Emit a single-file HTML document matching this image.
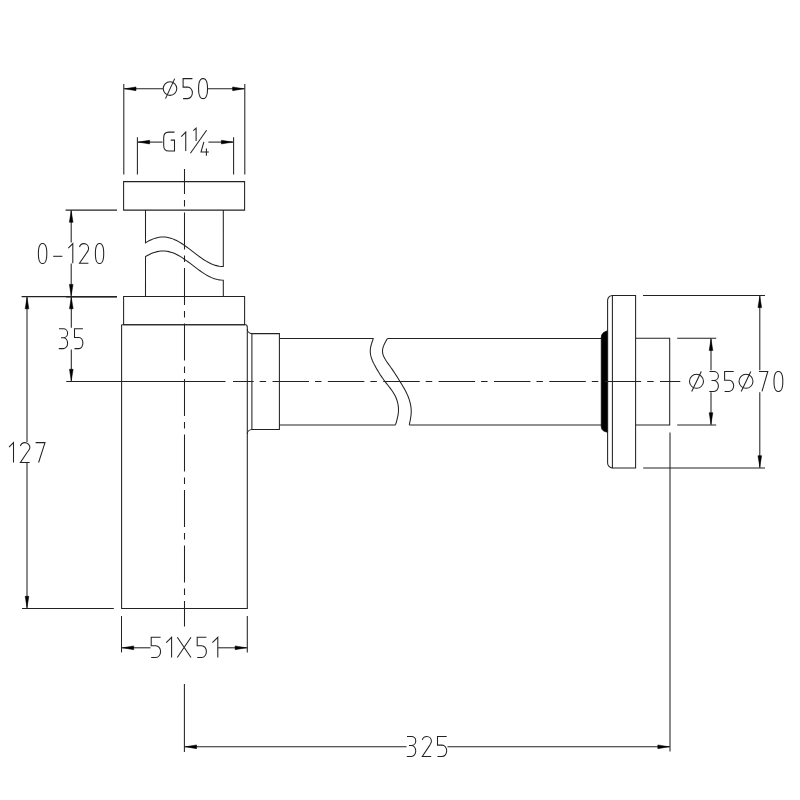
<!DOCTYPE html>
<html><head><meta charset="utf-8"><title>Bottle trap drawing</title>
<style>
html,body{margin:0;padding:0;background:#fff;}
body{width:800px;height:800px;overflow:hidden;font-family:"Liberation Sans",sans-serif;}
svg{display:block;}
</style></head><body>
<svg width="800" height="800" viewBox="0 0 800 800">
<rect width="800" height="800" fill="#fff"/>
<g fill="none" stroke="#222" stroke-width="1.05" stroke-linecap="butt" stroke-linejoin="miter" stroke-miterlimit="4">
<path d="M123.6,181.6 H244.6 V210.1 H123.6 Z"/>
<polyline points="145.5,210.1 145.50,242.77 147.44,241.63 149.39,240.59 151.34,239.67 153.28,238.87 155.22,238.21 157.17,237.68 159.12,237.30 161.06,237.08 163.00,237.00 164.95,237.08 166.90,237.31 168.84,237.68 170.78,238.21 172.73,238.87 174.68,239.67 176.62,240.59 178.56,241.63 180.51,242.78 182.46,244.01 184.40,245.33 186.34,246.71 188.29,248.15 190.24,249.62 192.18,251.12 194.12,252.62 196.07,254.11 198.02,255.58 199.96,257.01 201.91,258.38 203.85,259.69 205.80,260.91 207.74,262.04 209.69,263.06 211.63,263.96 213.58,264.74 215.52,265.38 217.47,265.88 219.41,266.24 221.36,266.45 223.30,266.50 223.3,210.1"/>
<polyline points="145.5,296.5 145.50,256.66 147.44,255.53 149.39,254.50 151.34,253.59 153.28,252.80 155.22,252.14 157.17,251.62 159.12,251.25 161.06,251.03 163.00,250.95 164.95,251.03 166.90,251.25 168.84,251.63 170.78,252.15 172.73,252.80 174.68,253.59 176.62,254.51 178.56,255.54 180.51,256.67 182.46,257.89 184.40,259.20 186.34,260.56 188.29,261.99 190.24,263.44 192.18,264.92 194.12,266.41 196.07,267.89 198.02,269.34 199.96,270.75 201.91,272.11 203.85,273.41 205.80,274.62 207.74,275.73 209.69,276.74 211.63,277.64 213.58,278.41 215.52,279.04 217.47,279.54 219.41,279.89 221.36,280.10 223.30,280.15 223.3,296.5"/>
<path d="M123.6,296.5 H244.6 V324.8 H123.6 Z"/>
<path d="M121.6,324.8 V608.5 H247.3 V434.1 A4.7,4.7 0 0 1 251.9,429.5"/>
<path d="M121.6,324.8 H245.6 Q247.3,324.8 247.3,327.6 V329.0 A4.6,4.6 0 0 0 251.9,333.6"/>
<line x1="247.3" y1="329.0" x2="247.3" y2="434.1"/>
<path d="M251.9,333.6 H279.4 V429.5 H251.9 Z"/>
<line x1="279.4" y1="338.4" x2="373.4" y2="338.4"/>
<line x1="279.4" y1="424.9" x2="395.5" y2="424.9"/>
<polyline points="373.40,338.40 373.05,339.36 372.70,340.32 372.36,341.28 372.03,342.24 371.71,343.21 371.42,344.17 371.15,345.13 370.91,346.09 370.70,347.05 370.52,348.01 370.39,348.97 370.30,349.93 370.25,350.89 370.26,351.86 370.32,352.82 370.43,353.78 370.59,354.74 370.79,355.70 371.03,356.66 371.32,357.62 371.64,358.58 372.00,359.54 372.38,360.51 372.80,361.47 373.24,362.43 373.71,363.39 374.19,364.35 374.70,365.31 375.22,366.27 375.75,367.23 376.29,368.19 376.85,369.16 377.41,370.12 377.98,371.08 378.57,372.04 379.16,373.00 379.77,373.96 380.39,374.92 381.02,375.88 381.67,376.84 382.33,377.81 383.00,378.77 383.69,379.73 384.39,380.69 385.11,381.65 385.85,382.61 386.59,383.57 387.34,384.53 388.10,385.49 388.85,386.46 389.59,387.42 390.33,388.38 391.04,389.34 391.74,390.30 392.41,391.26 393.05,392.22 393.66,393.18 394.23,394.14 394.76,395.11 395.25,396.07 395.70,397.03 396.11,397.99 396.49,398.95 396.83,399.91 397.14,400.87 397.42,401.83 397.66,402.79 397.87,403.76 398.05,404.72 398.20,405.68 398.33,406.64 398.42,407.60 398.48,408.56 398.50,409.52 398.49,410.48 398.45,411.44 398.37,412.41 398.26,413.37 398.13,414.33 397.97,415.29 397.79,416.25 397.59,417.21 397.37,418.17 397.13,419.13 396.88,420.09 396.62,421.06 396.35,422.02 396.07,422.98 395.78,423.94 395.50,424.90"/>
<polyline points="387.50,338.40 386.93,339.36 386.37,340.32 385.82,341.28 385.29,342.24 384.78,343.21 384.31,344.17 383.88,345.13 383.50,346.09 383.16,347.05 382.89,348.01 382.68,348.97 382.55,349.93 382.49,350.89 382.52,351.86 382.64,352.82 382.83,353.78 383.11,354.74 383.45,355.70 383.85,356.66 384.32,357.62 384.83,358.58 385.38,359.54 385.98,360.51 386.61,361.47 387.26,362.43 387.93,363.39 388.62,364.35 389.32,365.31 390.02,366.27 390.71,367.23 391.39,368.19 392.06,369.16 392.72,370.12 393.38,371.08 394.02,372.04 394.65,373.00 395.27,373.96 395.89,374.92 396.51,375.88 397.11,376.84 397.71,377.81 398.31,378.77 398.91,379.73 399.50,380.69 400.09,381.65 400.68,382.61 401.27,383.57 401.85,384.53 402.43,385.49 403.00,386.46 403.56,387.42 404.11,388.38 404.65,389.34 405.17,390.30 405.67,391.26 406.16,392.22 406.63,393.18 407.08,394.14 407.51,395.11 407.91,396.07 408.30,397.03 408.66,397.99 408.99,398.95 409.31,399.91 409.60,400.87 409.87,401.83 410.12,402.79 410.34,403.76 410.54,404.72 410.72,405.68 410.88,406.64 411.01,407.60 411.11,408.56 411.18,409.52 411.22,410.48 411.22,411.44 411.20,412.41 411.16,413.37 411.09,414.33 410.99,415.29 410.88,416.25 410.74,417.21 410.59,418.17 410.43,419.13 410.25,420.09 410.06,421.06 409.87,422.02 409.66,422.98 409.46,423.94 409.25,424.90"/>
<line x1="387.5" y1="338.4" x2="601.5" y2="338.4"/>
<line x1="409.25" y1="424.9" x2="601.5" y2="424.9"/>
<path d="M607.6,330.6 L603.5,332.5 Q601.2,334.5 601.2,337.5 V426.5 Q601.2,429.5 603.5,431.0 L607.6,432.4 Z" fill="#000" stroke="#000" stroke-width="0.6"/>
<path d="M612.4,295.4 H635.6 V467.9 H612.4 Z"/>
<path d="M612.4,295.4 A4.8,4.8 0 0 0 607.6,300.2 V463.1 A4.8,4.8 0 0 0 612.4,467.9"/>
<path d="M635.6,338.3 H669.7 V424.9 H635.6"/>
<line x1="184.5" y1="169.0" x2="184.5" y2="626.5" stroke-dasharray="37 6 6.5 6" stroke-dashoffset="12"/>
<line x1="66.2" y1="381.5" x2="225.5" y2="381.5"/>
<line x1="233.0" y1="381.5" x2="680.3" y2="381.5" stroke-dasharray="36.5 6 6.5 6.36" stroke-dashoffset="15.86"/>
<line x1="123.8" y1="84.0" x2="123.8" y2="174.5"/>
<line x1="244.8" y1="84.0" x2="244.8" y2="174.5"/>
<line x1="123.8" y1="88.8" x2="163.0" y2="88.8"/>
<line x1="208.0" y1="88.8" x2="244.8" y2="88.8"/>
<polygon points="124.80,88.80 136.00,86.95 136.00,90.65" fill="#000" stroke="#000" stroke-width="0.5"/>
<polygon points="243.80,88.80 232.60,86.95 232.60,90.65" fill="#000" stroke="#000" stroke-width="0.5"/>
<circle cx="170.0" cy="88.6" r="6.8"/>
<path d="M165.5,98.6 L174.7,78.6"/>
<path d="M192.4,78.6 H183.1 V87.1 H187.6 A4.800000000000001,5.75 0 0 1 187.6,98.6 H183.1"/>
<polygon points="207.50,88.60 207.48,90.04 207.43,91.16 207.34,92.17 207.22,93.09 207.06,93.94 206.87,94.73 206.64,95.44 206.38,96.09 206.10,96.67 205.78,97.17 205.43,97.61 205.05,97.96 204.64,98.24 204.19,98.44 203.69,98.56 203.05,98.60 202.41,98.56 201.91,98.44 201.46,98.24 201.05,97.96 200.67,97.61 200.32,97.17 200.00,96.67 199.72,96.09 199.46,95.44 199.23,94.73 199.04,93.94 198.88,93.09 198.76,92.17 198.67,91.16 198.62,90.04 198.60,88.60 198.62,87.16 198.67,86.04 198.76,85.03 198.88,84.11 199.04,83.26 199.23,82.47 199.46,81.76 199.72,81.11 200.00,80.53 200.32,80.03 200.67,79.59 201.05,79.24 201.46,78.96 201.91,78.76 202.41,78.64 203.05,78.60 203.69,78.64 204.19,78.76 204.64,78.96 205.05,79.24 205.43,79.59 205.78,80.03 206.10,80.53 206.38,81.11 206.64,81.76 206.87,82.47 207.06,83.26 207.22,84.11 207.34,85.03 207.43,86.04 207.48,87.16"/>
<line x1="137.4" y1="137.2" x2="137.4" y2="174.5"/>
<line x1="233.6" y1="137.2" x2="233.6" y2="174.5"/>
<line x1="137.4" y1="142.1" x2="162.5" y2="142.1"/>
<line x1="208.4" y1="142.1" x2="233.6" y2="142.1"/>
<polygon points="138.40,142.10 149.60,140.25 149.60,143.95" fill="#000" stroke="#000" stroke-width="0.5"/>
<polygon points="232.60,142.10 221.40,140.25 221.40,143.95" fill="#000" stroke="#000" stroke-width="0.5"/>
<path d="M174.5,132.1 H168.7 C165.2,132.1 163.7,134.1 163.7,137.6 V145.5 C163.7,149.0 165.2,151.0 168.7,151.0 H174.5 V140.1 H170.7"/>
<path d="M181.25,136.6 L185.75,132.1 V151.1"/>
<path d="M193.3,130.6 L196.1,128.15 V141.1"/>
<path d="M190.4,153.3 L206.6,130.3"/>
<path d="M203.9,141.9 L201.0,152.0 H208.9 M206.4,148.4 V155.7"/>
<line x1="65.6" y1="210.1" x2="117.0" y2="210.1"/>
<line x1="21.6" y1="296.6" x2="117.0" y2="296.6"/>
<line x1="66.0" y1="297.0" x2="117.0" y2="297.0"/>
<line x1="71.2" y1="210.1" x2="71.2" y2="242.5"/>
<line x1="71.2" y1="263.5" x2="71.2" y2="296.6"/>
<polygon points="71.20,211.10 69.35,222.30 73.05,222.30" fill="#000" stroke="#000" stroke-width="0.5"/>
<polygon points="71.20,295.60 69.35,284.40 73.05,284.40" fill="#000" stroke="#000" stroke-width="0.5"/>
<polygon points="46.80,253.50 46.78,254.94 46.73,256.06 46.65,257.07 46.53,257.99 46.38,258.84 46.20,259.63 45.99,260.34 45.75,260.99 45.47,261.57 45.17,262.07 44.84,262.51 44.49,262.86 44.10,263.14 43.68,263.34 43.21,263.46 42.60,263.50 41.99,263.46 41.52,263.34 41.10,263.14 40.71,262.86 40.36,262.51 40.03,262.07 39.73,261.57 39.45,260.99 39.21,260.34 39.00,259.63 38.82,258.84 38.67,257.99 38.55,257.07 38.47,256.06 38.42,254.94 38.40,253.50 38.42,252.06 38.47,250.94 38.55,249.93 38.67,249.01 38.82,248.16 39.00,247.37 39.21,246.66 39.45,246.01 39.73,245.43 40.03,244.93 40.36,244.49 40.71,244.14 41.10,243.86 41.52,243.66 41.99,243.54 42.60,243.50 43.21,243.54 43.68,243.66 44.10,243.86 44.49,244.14 44.84,244.49 45.17,244.93 45.47,245.43 45.75,246.01 45.99,246.66 46.20,247.37 46.38,248.16 46.53,249.01 46.65,249.93 46.73,250.94 46.78,252.06"/>
<path d="M53.2,256.3 H62.400000000000006"/>
<path d="M68.3,248.1 L72.8,243.6 V263.3"/>
<path d="M79.5,247.0 C80.1,244.6 81.9,243.6 84.0,243.6 C86.7,243.6 88.6,245.79999999999998 88.6,248.4 C88.6,250.2 87.7,251.4 86.7,252.79999999999998 L79.5,263.3 H88.39999999999999"/>
<polygon points="103.70,253.50 103.68,254.94 103.63,256.06 103.55,257.07 103.44,257.99 103.29,258.84 103.11,259.63 102.90,260.34 102.66,260.99 102.39,261.57 102.09,262.07 101.77,262.51 101.41,262.86 101.03,263.14 100.61,263.34 100.15,263.46 99.55,263.50 98.95,263.46 98.49,263.34 98.07,263.14 97.69,262.86 97.33,262.51 97.01,262.07 96.71,261.57 96.44,260.99 96.20,260.34 95.99,259.63 95.81,258.84 95.66,257.99 95.55,257.07 95.47,256.06 95.42,254.94 95.40,253.50 95.42,252.06 95.47,250.94 95.55,249.93 95.66,249.01 95.81,248.16 95.99,247.37 96.20,246.66 96.44,246.01 96.71,245.43 97.01,244.93 97.33,244.49 97.69,244.14 98.07,243.86 98.49,243.66 98.95,243.54 99.55,243.50 100.15,243.54 100.61,243.66 101.03,243.86 101.41,244.14 101.77,244.49 102.09,244.93 102.39,245.43 102.66,246.01 102.90,246.66 103.11,247.37 103.29,248.16 103.44,249.01 103.55,249.93 103.63,250.94 103.68,252.06"/>
<line x1="71.3" y1="296.6" x2="71.3" y2="327.8"/>
<line x1="71.3" y1="349.4" x2="71.3" y2="381.5"/>
<polygon points="71.30,297.60 69.45,308.80 73.15,308.80" fill="#000" stroke="#000" stroke-width="0.5"/>
<polygon points="71.30,380.50 69.45,369.30 73.15,369.30" fill="#000" stroke="#000" stroke-width="0.5"/>
<path d="M59.0,328.7 H63.4 A4.199999999999999,4.5 0 0 1 63.4,337.7 H61.0 M63.4,337.7 A4.199999999999999,5.449999999999999 0 0 1 63.4,348.59999999999997 H58.8"/>
<path d="M82.9,328.7 H74.5 V337.4 H79.0 A3.9000000000000004,5.6 0 0 1 79.0,348.59999999999997 H74.5"/>
<line x1="22.0" y1="608.5" x2="113.8" y2="608.5"/>
<line x1="27.0" y1="296.6" x2="27.0" y2="441.9"/>
<line x1="27.0" y1="462.9" x2="27.0" y2="608.5"/>
<polygon points="27.00,297.60 25.15,308.80 28.85,308.80" fill="#000" stroke="#000" stroke-width="0.5"/>
<polygon points="27.00,607.50 25.15,596.30 28.85,596.30" fill="#000" stroke="#000" stroke-width="0.5"/>
<path d="M9.0,447.1 L13.5,442.6 V462.5"/>
<path d="M20.4,446.0 C21.0,443.6 22.799999999999997,442.6 24.9,442.6 C27.599999999999998,442.6 29.9,444.8 29.9,447.40000000000003 C29.9,449.20000000000005 28.599999999999998,450.40000000000003 27.599999999999998,451.8 L20.4,462.5 H29.7"/>
<path d="M35.6,442.6 H45.0 L38.6,462.5"/>
<line x1="121.5" y1="616.0" x2="121.5" y2="652.4"/>
<line x1="247.3" y1="616.0" x2="247.3" y2="652.4"/>
<line x1="121.5" y1="647.8" x2="150.5" y2="647.8"/>
<line x1="218.0" y1="647.8" x2="247.3" y2="647.8"/>
<polygon points="122.50,647.80 133.70,645.95 133.70,649.65" fill="#000" stroke="#000" stroke-width="0.5"/>
<polygon points="246.30,647.80 235.10,645.95 235.10,649.65" fill="#000" stroke="#000" stroke-width="0.5"/>
<path d="M160.6,637.3 H151.2 V645.6999999999999 H155.7 A4.9,5.8999999999999995 0 0 1 155.7,657.5 H151.2"/>
<path d="M166.2,642.6999999999999 L171.6,637.3 V657.5"/>
<path d="M177.3,637.3 L191.0,657.5 M191.0,637.3 L177.3,657.5"/>
<path d="M206.39999999999998,637.3 H197.2 V645.6999999999999 H201.7 A4.699999999999999,5.8999999999999995 0 0 1 201.7,657.5 H197.2"/>
<path d="M212.4,642.6999999999999 L217.8,637.3 V657.5"/>
<line x1="184.4" y1="684.0" x2="184.4" y2="752.0"/>
<line x1="670.0" y1="432.4" x2="670.0" y2="751.5"/>
<line x1="184.4" y1="746.8" x2="406.5" y2="746.8"/>
<line x1="447.5" y1="746.8" x2="670.0" y2="746.8"/>
<polygon points="185.40,746.80 196.60,744.95 196.60,748.65" fill="#000" stroke="#000" stroke-width="0.5"/>
<polygon points="669.00,746.80 657.80,744.95 657.80,748.65" fill="#000" stroke="#000" stroke-width="0.5"/>
<path d="M407.0,736.4 H411.4 A4.35,4.5 0 0 1 411.4,745.4 H409.0 M411.4,745.4 A4.35,5.550000000000001 0 0 1 411.4,756.5 H406.8"/>
<path d="M422.3,739.8 C422.90000000000003,737.4 424.7,736.4 426.8,736.4 C429.5,736.4 431.40000000000003,738.6 431.40000000000003,741.1999999999999 C431.40000000000003,743.0 430.5,744.1999999999999 429.5,745.6 L422.3,756.5 H431.20000000000005"/>
<path d="M446.7,736.4 H437.5 V745.1 H442.0 A4.699999999999999,5.700000000000001 0 0 1 442.0,756.5 H437.5"/>
<line x1="643.0" y1="295.4" x2="765.0" y2="295.4"/>
<line x1="643.2" y1="467.9" x2="765.0" y2="467.9"/>
<line x1="677.2" y1="338.3" x2="716.2" y2="338.3"/>
<line x1="677.2" y1="424.9" x2="716.2" y2="424.9"/>
<line x1="711.0" y1="338.3" x2="711.0" y2="370.3"/>
<line x1="711.0" y1="392.3" x2="711.0" y2="424.9"/>
<line x1="759.8" y1="295.4" x2="759.8" y2="370.3"/>
<line x1="759.8" y1="392.3" x2="759.8" y2="467.9"/>
<polygon points="711.00,339.30 709.15,350.50 712.85,350.50" fill="#000" stroke="#000" stroke-width="0.5"/>
<polygon points="711.00,423.90 709.15,412.70 712.85,412.70" fill="#000" stroke="#000" stroke-width="0.5"/>
<polygon points="759.80,296.40 757.95,307.60 761.65,307.60" fill="#000" stroke="#000" stroke-width="0.5"/>
<polygon points="759.80,466.90 757.95,455.70 761.65,455.70" fill="#000" stroke="#000" stroke-width="0.5"/>
<circle cx="696.5" cy="381.3" r="7.0"/>
<path d="M691.7,391.5 L701.3,371.6"/>
<path d="M709.5,371.5 H713.9 A4.5,4.5 0 0 1 713.9,380.5 H711.5 M713.9,380.5 A4.5,5.449999999999999 0 0 1 713.9,391.4 H709.3"/>
<path d="M733.7,371.5 H724.6 V380.2 H729.1 A4.6,5.6 0 0 1 729.1,391.4 H724.6"/>
<circle cx="746.0" cy="381.3" r="7.0"/>
<path d="M741.2,391.5 L750.8,371.6"/>
<path d="M759.0,371.5 H767.8 L762.0,391.4"/>
<polygon points="782.80,381.45 782.78,382.89 782.73,384.00 782.64,385.00 782.52,385.92 782.36,386.77 782.17,387.55 781.95,388.26 781.70,388.90 781.41,389.48 781.10,389.98 780.75,390.41 780.38,390.76 779.97,391.04 779.53,391.24 779.04,391.36 778.40,391.40 777.76,391.36 777.27,391.24 776.83,391.04 776.42,390.76 776.05,390.41 775.70,389.98 775.39,389.48 775.10,388.90 774.85,388.26 774.63,387.55 774.44,386.77 774.28,385.92 774.16,385.00 774.07,384.00 774.02,382.89 774.00,381.45 774.02,380.01 774.07,378.90 774.16,377.90 774.28,376.98 774.44,376.13 774.63,375.35 774.85,374.64 775.10,374.00 775.39,373.42 775.70,372.92 776.05,372.49 776.42,372.14 776.83,371.86 777.27,371.66 777.76,371.54 778.40,371.50 779.04,371.54 779.53,371.66 779.97,371.86 780.38,372.14 780.75,372.49 781.10,372.92 781.41,373.42 781.70,374.00 781.95,374.64 782.17,375.35 782.36,376.13 782.52,376.98 782.64,377.90 782.73,378.90 782.78,380.01"/>
</g>
</svg>
</body></html>
